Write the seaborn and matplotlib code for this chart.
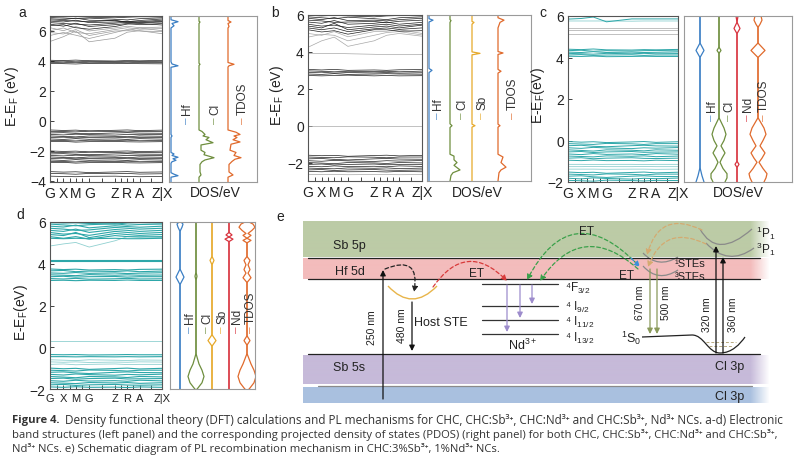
import numpy as np
import pandas as pd
import matplotlib
matplotlib.use("Agg")
import matplotlib.pyplot as plt
from matplotlib.path import Path
from matplotlib.patches import PathPatch
import seaborn as sns

# k-path and labels
KLABELS = ["G", "X", "M", "G", "Z", "R", "A", "Z|X"]
KPATH = [0, 0.12, 0.23, 0.35, 0.58, 0.69, 0.80, 1.0]

# ---------- panel a: CHC bands (eV at each k point) ----------
a_top_dark = [
    [6.97, 6.94, 6.96, 6.92, 6.88, 6.92, 6.95, 6.94],
    [6.9, 6.86, 6.82, 6.86, 6.78, 6.74, 6.82, 6.88],
    [6.82, 6.76, 6.86, 6.72, 6.68, 6.62, 6.7, 6.8],
    [6.74, 6.7, 6.66, 6.62, 6.72, 6.56, 6.62, 6.72],
    [6.66, 6.6, 6.72, 6.56, 6.6, 6.66, 6.58, 6.64],
    [6.56, 6.5, 6.46, 6.4, 6.52, 6.6, 6.54, 6.6],
    [6.46, 6.32, 6.52, 6.3, 6.42, 6.5, 6.42, 6.5],
    [6.36, 6.42, 6.22, 6.12, 6.3, 6.46, 6.5, 6.4],
]
a_top_light = [
    [6.22, 6.02, 6.3, 6.0, 6.2, 6.32, 6.22, 6.26],
    [6.02, 6.2, 5.9, 5.82, 6.1, 6.22, 6.12, 6.16],
    [5.9, 5.8, 6.1, 5.7, 6.0, 6.02, 6.2, 6.02],
    [5.7, 5.9, 5.72, 5.5, 5.9, 6.1, 6.0, 5.96],
    [5.3, 5.62, 6.0, 5.28, 5.52, 5.92, 6.02, 5.82],
]
a_cb = [
    [4.05, 4.03, 4.06, 4.02, 4.0, 4.03, 4.01, 4.04],
    [3.97, 3.99, 3.94, 3.97, 3.95, 3.96, 3.97, 3.95],
    [3.9, 3.88, 3.92, 3.88, 3.9, 3.88, 3.9, 3.91],
    [3.84, 3.82, 3.8, 3.84, 3.82, 3.84, 3.82, 3.81],
]
a_vb = [
    [-0.6, -0.63, -0.61, -0.66, -0.62, -0.6, -0.64, -0.61],
    [-0.69, -0.71, -0.73, -0.68, -0.7, -0.73, -0.7, -0.69],
    [-0.8, -0.78, -0.83, -0.85, -0.8, -0.78, -0.81, -0.82],
    [-0.9, -0.93, -0.88, -0.91, -0.94, -0.9, -0.92, -0.89],
    [-1.0, -1.03, -1.06, -1.0, -1.02, -1.05, -1.0, -1.02],
    [-1.1, -1.08, -1.13, -1.1, -1.08, -1.12, -1.11, -1.1],
    [-1.2, -1.23, -1.18, -1.22, -1.2, -1.23, -1.18, -1.21],
    [-1.29, -1.31, -1.33, -1.28, -1.3, -1.28, -1.32, -1.3],
    [-1.38, -1.36, -1.41, -1.38, -1.36, -1.39, -1.4, -1.38],
    [-2.0, -2.03, -2.01, -2.06, -2.02, -2.0, -2.04, -2.01],
    [-2.09, -2.11, -2.13, -2.08, -2.1, -2.13, -2.1, -2.09],
    [-2.2, -2.18, -2.23, -2.25, -2.2, -2.18, -2.21, -2.22],
    [-2.3, -2.33, -2.28, -2.31, -2.34, -2.3, -2.32, -2.29],
    [-2.4, -2.43, -2.46, -2.4, -2.42, -2.45, -2.4, -2.42],
    [-2.5, -2.48, -2.53, -2.5, -2.48, -2.52, -2.51, -2.5],
    [-2.6, -2.63, -2.58, -2.62, -2.6, -2.63, -2.58, -2.61],
    [-2.69, -2.71, -2.73, -2.68, -2.7, -2.68, -2.72, -2.7],
    [-2.78, -2.76, -2.81, -2.78, -2.76, -2.79, -2.8, -2.78],
    [-3.38, -3.41, -3.39, -3.44, -3.4, -3.38, -3.42, -3.4],
    [-3.5, -3.52, -3.55, -3.5, -3.52, -3.5, -3.54, -3.52],
    [-3.68, -3.7, -3.72, -3.69, -3.68, -3.7, -3.72, -3.7],
]

# ---------- panel b: CHC:Sb ----------
b_top_dark = [
    [5.98, 5.95, 5.98, 5.95, 5.9, 5.95, 5.97, 5.96],
    [5.9, 5.85, 5.8, 5.88, 5.8, 5.75, 5.85, 5.9],
    [5.82, 5.75, 5.86, 5.7, 5.72, 5.68, 5.75, 5.82],
    [5.72, 5.68, 5.6, 5.62, 5.65, 5.58, 5.66, 5.72],
    [5.62, 5.55, 5.7, 5.5, 5.55, 5.62, 5.5, 5.6],
    [5.5, 5.4, 5.45, 5.32, 5.45, 5.5, 5.4, 5.5],
    [5.4, 5.3, 5.55, 5.2, 5.35, 5.4, 5.3, 5.45],
    [5.3, 5.2, 5.3, 5.1, 5.25, 5.3, 5.22, 5.3],
    [5.2, 5.08, 5.15, 4.96, 5.2, 5.2, 5.12, 5.15],
    [3.05, 3.02, 3.05, 3.0, 3.02, 3.0, 3.03, 3.04],
    [2.97, 2.95, 2.92, 2.95, 2.93, 2.95, 2.92, 2.96],
    [2.88, 2.9, 2.85, 2.88, 2.86, 2.88, 2.85, 2.87],
    [2.8, 2.78, 2.82, 2.78, 2.8, 2.82, 2.8, 2.79],
    [2.72, 2.7, 2.72, 2.74, 2.7, 2.72, 2.7, 2.71],
    [-1.6, -1.63, -1.61, -1.66, -1.62, -1.6, -1.64, -1.61],
    [-1.7, -1.72, -1.74, -1.69, -1.71, -1.74, -1.7, -1.7],
    [-1.8, -1.78, -1.83, -1.86, -1.8, -1.78, -1.81, -1.82],
    [-1.9, -1.93, -1.88, -1.91, -1.94, -1.9, -1.92, -1.89],
    [-2.0, -2.03, -2.06, -2.0, -2.02, -2.05, -2.0, -2.02],
    [-2.1, -2.08, -2.13, -2.1, -2.08, -2.12, -2.11, -2.1],
    [-2.2, -2.23, -2.18, -2.22, -2.2, -2.23, -2.18, -2.21],
    [-2.3, -2.32, -2.34, -2.29, -2.31, -2.29, -2.33, -2.3],
    [-2.4, -2.38, -2.43, -2.4, -2.38, -2.41, -2.42, -2.4],
    [-2.48, -2.5, -2.47, -2.5, -2.49, -2.51, -2.48, -2.5],
]
b_light = [
    [5.0, 4.9, 5.1, 4.82, 5.1, 5.12, 5.2, 5.0],
    [4.8, 4.95, 4.9, 4.6, 4.9, 5.05, 5.1, 4.92],
    [4.25, 4.6, 4.8, 4.3, 4.6, 4.9, 5.0, 4.85],
    [3.92, 3.92, 3.92, 3.9, 3.87, 3.85, 3.85, 3.85],
    [0.0, 0.0, 0.0, 0.0, 0.0, 0.0, 0.0, 0.0],
    [-2.65, -2.65, -2.65, -2.66, -2.65, -2.65, -2.66, -2.65],
]

# ---------- panel c: CHC:Nd ----------
c_main = [
    [5.85, 5.88, 5.95, 5.72, 5.86, 5.86, 5.86, 5.86],
    [4.4, 4.38, 4.41, 4.37, 4.36, 4.38, 4.37, 4.39],
    [4.33, 4.35, 4.3, 4.33, 4.31, 4.33, 4.34, 4.32],
    [4.26, 4.24, 4.28, 4.24, 4.26, 4.24, 4.25, 4.27],
    [4.2, 4.18, 4.16, 4.2, 4.18, 4.2, 4.18, 4.19],
    [4.12, 4.14, 4.1, 4.12, 4.13, 4.1, 4.12, 4.12],
    [4.06, 4.05, 4.07, 4.04, 4.05, 4.06, 4.05, 4.05],
    [-0.05, -0.08, -0.06, -0.1, -0.07, -0.05, -0.09, -0.06],
    [-0.15, -0.17, -0.19, -0.14, -0.16, -0.19, -0.15, -0.15],
    [-0.25, -0.23, -0.28, -0.3, -0.25, -0.23, -0.26, -0.27],
    [-0.35, -0.38, -0.33, -0.36, -0.39, -0.35, -0.37, -0.34],
    [-0.45, -0.48, -0.51, -0.45, -0.47, -0.5, -0.45, -0.47],
    [-0.55, -0.53, -0.58, -0.55, -0.53, -0.57, -0.56, -0.55],
    [-0.65, -0.68, -0.63, -0.67, -0.65, -0.68, -0.63, -0.66],
    [-0.75, -0.77, -0.79, -0.74, -0.76, -0.74, -0.78, -0.75],
    [-0.85, -0.83, -0.88, -0.85, -0.83, -0.86, -0.87, -0.85],
    [-0.95, -0.97, -0.94, -0.97, -0.96, -0.98, -0.95, -0.97],
    [-1.52, -1.55, -1.53, -1.58, -1.54, -1.52, -1.56, -1.53],
    [-1.62, -1.64, -1.66, -1.61, -1.63, -1.66, -1.62, -1.62],
    [-1.72, -1.7, -1.75, -1.78, -1.72, -1.7, -1.73, -1.74],
    [-1.82, -1.85, -1.8, -1.83, -1.86, -1.82, -1.84, -1.81],
    [-1.92, -1.94, -1.96, -1.91, -1.93, -1.95, -1.92, -1.93],
]
c_light = [
    [5.76, 5.76, 5.76, 5.76, 5.75, 5.76, 5.76, 5.76],
    [-1.15, -1.15, -1.16, -1.15, -1.15, -1.16, -1.15, -1.15],
    [-1.26, -1.26, -1.25, -1.26, -1.26, -1.25, -1.26, -1.26],
    [-1.38, -1.38, -1.38, -1.39, -1.38, -1.38, -1.39, -1.38],
]
c_gray = [
    [5.42, 5.42, 5.42, 5.42, 5.42, 5.42, 5.42, 5.42],
    [5.33, 5.33, 5.33, 5.33, 5.33, 5.33, 5.33, 5.33],
    [5.15, 5.15, 5.15, 5.15, 5.15, 5.15, 5.15, 5.15],
]

# ---------- panel d: CHC:Sb,Nd ----------
d_main = [
    [5.97, 5.95, 5.96, 5.93, 5.9, 5.95, 5.97, 5.95],
    [5.9, 5.86, 5.82, 5.87, 5.92, 5.85, 5.88, 5.9],
    [5.8, 5.76, 5.85, 5.72, 5.82, 5.78, 5.75, 5.8],
    [5.7, 5.66, 5.6, 5.62, 5.74, 5.7, 5.66, 5.7],
    [5.6, 5.55, 5.66, 5.5, 5.64, 5.6, 5.55, 5.6],
    [5.5, 5.42, 5.45, 5.36, 5.55, 5.5, 5.45, 5.5],
    [5.4, 5.35, 5.5, 5.25, 5.45, 5.4, 5.36, 5.4],
    [5.3, 5.22, 5.3, 5.18, 5.35, 5.3, 5.28, 5.3],
    [5.22, 5.2, 5.22, 5.2, 5.22, 5.2, 5.2, 5.22],
    [4.2, 4.2, 4.2, 4.2, 4.2, 4.2, 4.2, 4.2],
    [4.12, 4.12, 4.12, 4.12, 4.12, 4.12, 4.12, 4.12],
    [3.75, 3.72, 3.74, 3.7, 3.72, 3.7, 3.73, 3.74],
    [3.66, 3.68, 3.62, 3.65, 3.63, 3.66, 3.62, 3.65],
    [3.56, 3.54, 3.58, 3.54, 3.56, 3.53, 3.55, 3.57],
    [3.47, 3.45, 3.43, 3.48, 3.45, 3.47, 3.45, 3.46],
    [3.38, 3.4, 3.36, 3.38, 3.39, 3.36, 3.38, 3.38],
    [3.29, 3.27, 3.3, 3.26, 3.28, 3.3, 3.27, 3.28],
    [3.2, 3.21, 3.19, 3.21, 3.2, 3.22, 3.2, 3.2],
    [-0.35, -0.36, -0.35, -0.37, -0.36, -0.35, -0.36, -0.36],
    [-0.45, -0.45, -0.46, -0.45, -0.46, -0.45, -0.46, -0.45],
    [-1.0, -1.03, -1.01, -1.06, -1.02, -1.0, -1.04, -1.01],
    [-1.1, -1.12, -1.14, -1.09, -1.11, -1.14, -1.1, -1.1],
    [-1.2, -1.18, -1.23, -1.26, -1.2, -1.18, -1.21, -1.22],
    [-1.3, -1.33, -1.28, -1.31, -1.34, -1.3, -1.32, -1.29],
    [-1.4, -1.43, -1.46, -1.4, -1.42, -1.45, -1.4, -1.42],
    [-1.5, -1.48, -1.53, -1.5, -1.48, -1.52, -1.51, -1.5],
    [-1.6, -1.63, -1.58, -1.62, -1.6, -1.63, -1.58, -1.61],
    [-1.7, -1.72, -1.74, -1.69, -1.71, -1.69, -1.73, -1.7],
    [-1.8, -1.78, -1.83, -1.8, -1.78, -1.81, -1.82, -1.8],
    [-1.9, -1.92, -1.89, -1.92, -1.91, -1.93, -1.9, -1.92],
]
d_light = [
    [4.85, 4.95, 5.02, 4.8, 5.1, 5.3, 5.32, 5.25],
    [0.3, 0.3, 0.3, 0.3, 0.3, 0.3, 0.3, 0.3],
    [-0.6, -0.62, -0.64, -0.6, -0.62, -0.64, -0.61, -0.62],
    [-0.7, -0.72, -0.7, -0.73, -0.71, -0.72, -0.7, -0.71],
    [-0.82, -0.8, -0.84, -0.82, -0.8, -0.83, -0.82, -0.82],
]

# ---------- PDOS curves: (energy eV, height px) ----------
dos_a = {
    "Hf": [(7.0, 0), (6.75, 0), (6.62, 7), (6.5, 1), (6.35, 3), (6.2, 0), (3.95, 0), (3.8, 1),
           (3.68, 7), (3.58, 0), (-0.9, 0), (-1.0, 1), (-1.1, 0), (-2.1, 0), (-2.2, 3), (-2.3, 1),
           (-2.42, 7), (-2.52, 2), (-2.62, 5), (-2.72, 1), (-2.82, 0), (-3.45, 0), (-3.55, 3),
           (-3.65, 7), (-3.75, 0), (-4.1, 0)],
    "Cl": [(7.0, 0), (6.65, 0), (6.6, 1), (6.5, 0), (3.85, 0), (3.78, 1), (3.7, 0), (-0.6, 0),
           (-0.7, 3), (-0.9, 6), (-1.0, 4), (-1.1, 10), (-1.25, 7), (-1.45, 14), (-1.6, 2),
           (-1.95, 2), (-2.1, 6), (-2.25, 5), (-2.45, 15), (-2.6, 6), (-2.72, 3), (-2.9, 1),
           (-3.4, 1), (-3.6, 2), (-3.75, 0), (-4.1, 0)],
    "TDOS": [(7.0, 0), (6.7, 0), (6.6, 3), (6.5, 0), (6.3, 1), (6.2, 0), (3.9, 0), (3.78, 6),
             (3.68, 1), (3.6, 0), (-0.6, 0), (-0.75, 8), (-0.9, 12), (-1.0, 6), (-1.1, 9),
             (-1.25, 5), (-1.4, 12), (-1.55, 3), (-1.95, 2), (-2.1, 8), (-2.3, 6), (-2.45, 13),
             (-2.55, 7), (-2.7, 4), (-2.9, 1), (-3.4, 1), (-3.6, 5), (-3.75, 0), (-4.1, 0)],
}
dos_b = {
    "Hf": [(6.0, 0), (5.8, 0), (5.72, 4), (5.62, 0), (3.1, 0), (3.0, 3), (2.88, 0), (-3.0, 0)],
    "Cl": [(6.0, 0), (5.75, 0), (5.7, 1), (5.6, 0), (0.1, 0), (0.0, 2), (-0.1, 0), (-1.55, 0),
           (-1.65, 4), (-1.85, 4), (-2.0, 7), (-2.15, 4), (-2.4, 10), (-2.55, 3), (-2.7, 1), (-3.0, 0)],
    "Sb": [(6.0, 0), (5.65, 0), (5.6, 2), (5.5, 0), (4.0, 0), (3.92, 8), (3.84, 0), (0.08, 0),
           (0.0, 3), (-0.08, 0), (-3.0, 0)],
    "TDOS": [(6.0, 0), (5.85, 0), (5.72, 6), (5.6, 2), (5.45, 1), (5.3, 0), (4.02, 0), (3.94, 5),
             (3.86, 0), (3.05, 0), (2.95, 3), (2.85, 0), (0.08, 0), (0.0, 2), (-0.08, 0), (-1.55, 0),
             (-1.7, 5), (-2.0, 3), (-2.25, 8), (-2.4, 3), (-2.55, 1), (-3.0, 0)],
}
dos_c = {
    "Hf": [(6.0, 0), (4.7, 0), (4.34, 4), (4.0, 0), (-1.3, 0), (-1.7, 2), (-2.0, 4)],
    "Cl": [(6.0, 0), (4.5, 0), (4.34, 2), (4.2, 0), (1.1, 0), (0.6, 5), (0.3, 7), (0.0, 5),
           (-0.26, 2), (-0.6, 6), (-0.85, 3), (-1.05, 1), (-1.35, 4), (-1.6, 8), (-1.8, 8), (-2.0, 6)],
    "Nd": [(6.0, 1), (5.7, 0), (5.4, 3), (5.15, 0), (-1.0, 0), (-1.15, 2), (-1.3, 0), (-2.0, 0)],
    "TDOS": [(6.0, 3), (5.8, 4), (5.6, 2), (5.45, 0), (4.7, 0), (4.34, 7), (4.0, 0), (1.1, 0),
             (0.6, 6), (0.3, 8), (0.0, 5), (-0.26, 2), (-0.6, 7), (-0.85, 4), (-1.05, 1),
             (-1.35, 5), (-1.6, 9), (-1.8, 8), (-2.0, 6)],
}
dos_d = {
    "Hf": [(6.0, 1), (5.9, 3), (5.75, 2), (5.55, 0), (3.75, 0), (3.36, 4), (3.0, 0), (-2.0, 0)],
    "Cl": [(6.0, 0), (3.6, 0), (3.4, 1), (3.2, 0), (-0.3, 0), (-0.8, 3), (-1.1, 6), (-1.4, 8),
           (-1.7, 6), (-1.95, 2), (-2.0, 1)],
    "Sb": [(6.0, 0), (4.35, 0), (4.16, 2), (3.95, 0), (0.6, 0), (0.32, 4), (0.05, 0), (-2.0, 0)],
    "Nd": [(6.0, 0), (5.5, 0), (5.38, 3), (5.28, 0), (5.18, 4), (5.06, 0), (4.95, 0), (-2.0, 0)],
    "TDOS": [(6.0, 2), (5.9, 6), (5.75, 8), (5.6, 5), (5.45, 1), (5.36, 4), (5.22, 0), (5.12, 4),
             (5.0, 0), (4.35, 0), (4.16, 3), (3.95, 1), (3.72, 3), (3.55, 1), (3.33, 4), (3.1, 0),
             (0.55, 0), (0.32, 3), (0.1, 0), (-0.3, 0), (-0.8, 4), (-1.1, 7), (-1.4, 9), (-1.7, 7),
             (-1.95, 3), (-2.0, 2)],
}

ELEM_COLORS = {"Hf": "#3b7fc4", "Cl": "#6e8e3e", "Sb": "#e6a92a", "Nd": "#d8343f", "TDOS": "#e06a2c"}
TEAL = "#2ea7a9"
TEAL_LIGHT = "#8fd0d0"

CAPTION_1 = ("Density functional theory (DFT) calculations and PL mechanisms for CHC, CHC:Sb³⁺, "
             "CHC:Nd³⁺ and CHC:Sb³⁺, Nd³⁺ NCs. a-d) Electronic")
CAPTION_2 = ("band structures (left panel) and the corresponding projected density of states (PDOS) "
             "(right panel) for both CHC, CHC:Sb³⁺, CHC:Nd³⁺ and CHC:Sb³⁺,")
CAPTION_3 = ("Nd³⁺ NCs. e) Schematic diagram of PL recombination mechanism in "
             "CHC:3%Sb³⁺, 1%Nd³⁺ NCs.")

sns.set_theme(style="white")
plt.rcParams["font.family"] = ["Liberation Sans", "DejaVu Sans"]
plt.rcParams["mathtext.default"] = "regular"

W, H = 800, 464
fig = plt.figure(figsize=(8, 4.64), dpi=100)


def px_axes(x0, y0, x1, y1):
    return fig.add_axes([x0 / W, 1 - y1 / H, (x1 - x0) / W, (y1 - y0) / H])


def band_frame(bands):
    rows = []
    for i, b in enumerate(bands):
        for k, e in zip(KPATH, b):
            rows.append((i, k, e))
    return pd.DataFrame(rows, columns=["band", "k", "E"])


def draw_bands(ax, groups, ylim, yticks, klabel_size=10):
    for bands, color, lw in groups:
        sns.lineplot(data=band_frame(bands), x="k", y="E", units="band", estimator=None,
                     color=color, lw=lw, ax=ax, legend=False, sort=False)
    ax.set_xlim(0, 1)
    ax.set_ylim(*ylim)
    ax.set_xticks(KPATH)
    ax.set_xticklabels(KLABELS, fontsize=klabel_size)
    mids = [(KPATH[i] + KPATH[i + 1]) / 2 for i in range(len(KPATH) - 1)]
    ax.set_xticks(mids, minor=True)
    ax.set_yticks(yticks)
    ax.set_xlabel("")
    ax.set_ylabel("")
    ax.tick_params(which="both", direction="in", length=3, width=0.6, labelsize=10, pad=3,
                   bottom=True, left=True, colors="#222")
    ax.tick_params(axis="x", labelsize=klabel_size)
    for s in ax.spines.values():
        s.set_color("#555")
        s.set_linewidth(0.8)


def draw_dos(ax, curves, bases, width, ylim, mirror=False):
    for (name, pts), base in zip(curves.items(), bases):
        e = [p[0] for p in pts]
        w = [p[1] for p in pts]
        ax.plot([base + v for v in w], e, color=ELEM_COLORS[name], lw=0.9)
        if mirror:
            ax.plot([base - v for v in w], e, color=ELEM_COLORS[name], lw=0.9)
    ax.set_xlim(0, width)
    ax.set_ylim(*ylim)
    ax.set_xticks([])
    ax.set_yticks([])
    for s in ax.spines.values():
        s.set_color("#9a9a9a")
        s.set_linewidth(0.8)


# panel a
ax = px_axes(50, 17, 162, 183)
draw_bands(ax, [(a_top_light, "#9a9a9a", 0.5), (a_top_dark, "#1e1e1e", 0.5),
                (a_cb, "#1e1e1e", 0.5), (a_vb, "#1e1e1e", 0.5)], (-4.07, 7.0), [-4, -2, 0, 2, 4, 6])
ax = px_axes(169, 17, 257, 183)
draw_dos(ax, dos_a, [2, 30, 59], 88, (-4.07, 7.0))

# panel b
ax = px_axes(308, 16, 422, 182)
draw_bands(ax, [(b_light, "#a8a8a8", 0.5), (b_top_dark, "#1e1e1e", 0.5)], (-3.0, 6.0), [-2, 0, 2, 4, 6])
ax = px_axes(427, 16, 531, 182)
draw_dos(ax, dos_b, [2, 23, 45, 71], 104, (-3.0, 6.0))

# panel c
ax = px_axes(568, 17, 678, 183)
draw_bands(ax, [(c_gray, "#b5b5b5", 0.6), (c_light, TEAL_LIGHT, 0.6), (c_main, TEAL, 0.7)],
           (-2.0, 6.0), [-2, 0, 2, 4, 6])
ax = px_axes(684, 17, 792, 183)
draw_dos(ax, dos_c, [16, 35, 53, 74], 108, (-2.0, 6.0), mirror=True)

# panel d
ax = px_axes(50, 223, 162, 390)
draw_bands(ax, [(d_light, TEAL_LIGHT, 0.6), (d_main, TEAL, 0.8)], (-2.0, 6.0), [-2, 0, 2, 4, 6],
           klabel_size=8)
ax = px_axes(170, 223, 255, 390)
draw_dos(ax, dos_d, [10, 26, 42, 59, 77], 85, (-2.0, 6.0), mirror=True)

# ---------- overlay in pixel coordinates: labels, schematic e, caption ----------
ov = fig.add_axes([0, 0, 1, 1])
ov.patch.set_visible(False)
ov.axis("off")

for letter, x, y in [("a", 22, 13), ("b", 275, 13), ("c", 543, 13), ("d", 20, 215), ("e", 280, 217)]:
    ov.text(x, y, letter, fontsize=10, ha="center", va="center", color="#222")

for text, x, y in [("E-E$_F$ (eV)", 12, 97), ("E-E$_F$ (eV)", 277, 96),
                   ("E-E$_F$(eV)", 538, 96), ("E-E$_F$(eV)", 21, 313)]:
    ov.text(x, y, text, rotation=90, fontsize=10, ha="center", va="center", color="#222")

for x in [215, 477, 738]:
    ov.text(x, 193, "DOS/eV", fontsize=10, ha="center", va="center", color="#222")

dos_labels = [
    ([187, 215, 243], ["Hf", "Cl", "TDOS"], 124),
    ([438, 462, 482, 513], ["Hf", "Cl", "Sb", "TDOS"], 119),
    ([712, 729, 748, 764], ["Hf", "Cl", "Nd", "TDOS"], 121),
    ([190, 207, 222, 237, 251], ["Hf", "Cl", "Sb", "Nd", "TDOS"], 333),
]
for xs, names, yb in dos_labels:
    for x, name in zip(xs, names):
        ov.text(x, yb, "–", rotation=90, fontsize=8.5, ha="center", va="bottom",
                color=ELEM_COLORS[name], alpha=0.75)
        ov.text(x, yb - 9, name, rotation=90, fontsize=8.5, ha="center", va="bottom", color="#333")

# band blocks of the schematic
BLOCKS = [(222, 258, "#bccba6"), (259, 280, "#f3bcbc"), (356, 385, "#c6bad9"), (388, 404, "#a9c0df")]
for y0, y1, col in BLOCKS:
    rgb = matplotlib.colors.to_rgb(col)
    n = 467
    img = np.zeros((1, n, 4))
    img[..., :3] = rgb
    img[..., 3] = 1.0
    img[0, -20:, 3] = np.linspace(1, 0, 20)
    ov.imshow(img, extent=(303, 770, y1, y0), aspect="auto", zorder=0, interpolation="bilinear")

for y in [259, 280, 355]:
    ov.plot([308, 760], [y, y], color="#222", lw=0.9, zorder=2)
ov.plot([318, 752], [387, 387], color="#8a8a8a", lw=0.9, zorder=2)

# Nd3+ levels
for y in [285, 307, 321, 335]:
    ov.plot([482, 558], [y, y], color="#333", lw=0.9)


def arrow(start, end, color, lw=0.9, ls="-", rad=0.0):
    ov.annotate("", xy=end, xytext=start,
                arrowprops=dict(arrowstyle="-|>", color=color, lw=lw, ls=ls, mutation_scale=8,
                                shrinkA=0, shrinkB=0, connectionstyle=f"arc3,rad={rad}"))


def qcurve(p0, c, p2, color, lw=0.9):
    path = Path([p0, c, p2], [Path.MOVETO, Path.CURVE3, Path.CURVE3])
    ov.add_patch(PathPatch(path, fc="none", ec=color, lw=lw))


DASH = (0, (3, 2))
# excitation / emission arrows
arrow((383, 400), (383, 271), "#111")
arrow((412, 303), (412, 352), "#111")
arrow((716, 354), (716, 247), "#111")
arrow((723, 354), (723, 258), "#111")
arrow((650, 270), (650, 335), "#8a9a5b")
arrow((657, 270), (657, 335), "#8a9a5b")
for x, y in [(507, 333), (520, 319), (532, 305)]:
    arrow((x, 286), (x, y), "#9d8ccc")

# energy transfer arcs
arrow((385, 270), (414, 293), "#222", ls=DASH, rad=-0.9)
arrow((433, 288), (507, 282), "#d83a3a", ls=DASH, rad=-0.6)
arrow((637, 265), (527, 281), "#3aa04a", ls=DASH, rad=0.69)
arrow((638, 270), (540, 282), "#3aa04a", ls=DASH, rad=0.57)
arrow((702, 231), (647, 256), "#d4aa70", ls=DASH, rad=0.6)
arrow((706, 245), (648, 268), "#d4aa70", ls=DASH, rad=0.55)
arrow((631, 259), (640, 268), "#3b8fd8", ls=DASH)

# potential curves
qcurve((388, 287), (412, 313), (437, 287), "#e8b54a", lw=1.0)
qcurve((643, 254), (658, 270), (678, 258), "#8a8a8a")
qcurve((643, 267), (658, 284), (678, 271), "#8a8a8a")
qcurve((700, 230), (717, 261), (752, 230), "#8a8a8a")
qcurve((706, 244), (728, 268), (754, 249), "#8a8a8a")
gs = Path([(642, 338), (692, 336), (704, 336), (708, 354), (720, 354), (732, 354), (740, 345), (745, 338)],
          [Path.MOVETO, Path.LINETO, Path.CURVE4, Path.CURVE4, Path.CURVE4, Path.CURVE4, Path.CURVE4,
           Path.CURVE4])
ov.add_patch(PathPatch(gs, fc="none", ec="#222", lw=0.9))
ov.plot([706, 736], [343, 343], color="#b8aa80", lw=0.7, ls=(0, (3, 2)))
ov.plot([709, 733], [347, 347], color="#b8aa80", lw=0.7, ls=(0, (3, 2)))

# schematic labels
TXT = dict(color="#222", va="center")
ov.text(333, 246, "Sb 5p", fontsize=9, ha="left", **TXT)
ov.text(335, 272, "Hf 5d", fontsize=9, ha="left", **TXT)
ov.text(333, 368, "Sb 5s", fontsize=9, ha="left", **TXT)
ov.text(730, 367, "Cl 3p", fontsize=9, ha="center", **TXT)
ov.text(730, 397, "Cl 3p", fontsize=9, ha="center", **TXT)
ov.text(414, 323, "Host STE", fontsize=9, ha="left", **TXT)
ov.text(477, 274, "ET", fontsize=8.5, ha="center", **TXT)
ov.text(587, 232, "ET", fontsize=8.5, ha="center", **TXT)
ov.text(627, 276, "ET", fontsize=8.5, ha="center", **TXT)
ov.text(523, 345, "Nd$^{3+}$", fontsize=9, ha="center", **TXT)
for label, y in [("⁴F$_{3/2}$", 288), ("⁴ I$_{9/2}$", 307), ("⁴ I$_{11/2}$", 322),
                 ("⁴ I$_{13/2}$", 338)]:
    ov.text(565, y, label, fontsize=8.5, ha="left", **TXT)
ov.text(675, 264, "¹STEs", fontsize=8, ha="left", **TXT)
ov.text(675, 277, "³STEs", fontsize=8, ha="left", **TXT)
ov.text(756, 233, "$^1$P$_1$", fontsize=8.5, ha="left", **TXT)
ov.text(756, 249, "$^3$P$_1$", fontsize=8.5, ha="left", **TXT)
ov.text(641, 338, "$^1$S$_0$", fontsize=9, ha="right", **TXT)
for label, x, y in [("250 nm", 372, 328), ("480 nm", 402, 326), ("670 nm", 640, 303),
                    ("500 nm", 666, 303), ("320 nm", 707, 315), ("360 nm", 733, 315)]:
    ov.text(x, y, label, fontsize=7.5, rotation=90, ha="center", va="center", color="#222")

# caption
CAP = dict(family=["Open Sans", "DejaVu Sans"], color="#333", va="center")
t1 = ov.text(12, 421, "Figure 4.", fontweight="bold", fontsize=8.1, ha="left", **CAP)
ov.annotate(CAPTION_1, xy=(1, 0.5), xycoords=t1, xytext=(4, 0), textcoords="offset points",
            ha="left", fontsize=8.45, **CAP)
ov.text(12, 435, CAPTION_2, ha="left", fontsize=8.15, **CAP)
ov.text(12, 449, CAPTION_3, ha="left", fontsize=8.15, **CAP)

ov.set_xlim(0, W)
ov.set_ylim(H, 0)

fig.savefig("out.png", dpi=100)
